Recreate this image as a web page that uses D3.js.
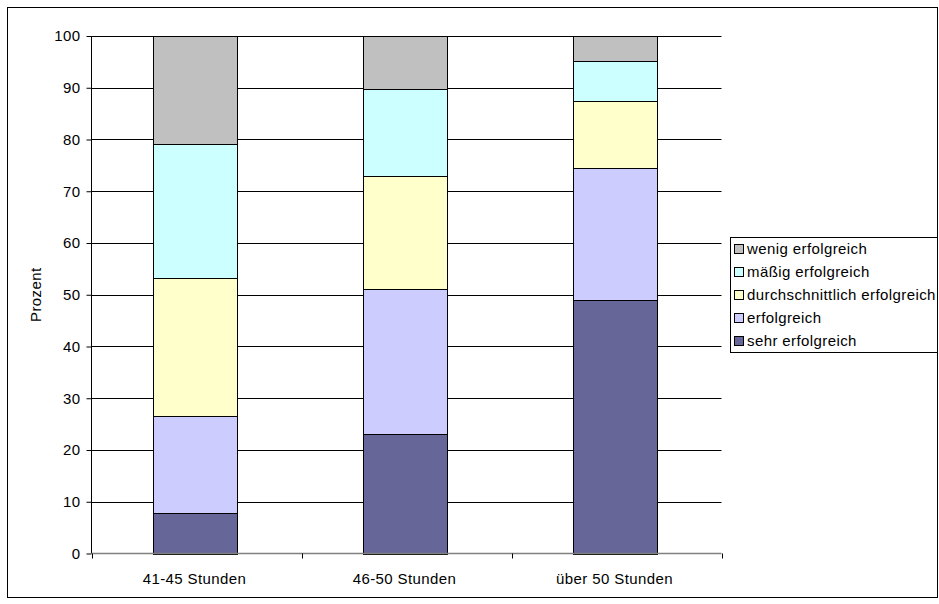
<!DOCTYPE html>
<html><head><meta charset="utf-8">
<script src="https://cdn.jsdelivr.net/npm/d3@7"></script>
<style>body{margin:0;background:#fff}svg{display:block;font-family:Arial,"Liberation Sans",sans-serif}svg text{letter-spacing:0.4px}</style>
</head><body>
<svg id="c" width="939" height="604"></svg>
<script>
const categories = ["41-45 Stunden", "46-50 Stunden", "über 50 Stunden"];
const seriesNames = ["sehr erfolgreich", "erfolgreich", "durchschnittlich erfolgreich", "mäßig erfolgreich", "wenig erfolgreich"];
const sehrErfolgreich = [7.8, 23.0, 48.9];
const erfolgreich = [18.8, 28.2, 25.6];
const durchschnittlich = [26.6, 21.7, 13.0];
const maessig = [25.9, 16.9, 7.7];
const wenig = [20.9, 10.2, 4.8];
const colors = ["#666699", "#ccccff", "#ffffcc", "#ccffff", "#c0c0c0"];
const yTicks = [0, 10, 20, 30, 40, 50, 60, 70, 80, 90, 100];

const FS = 15;
const seriesVals = [sehrErfolgreich, erfolgreich, durchschnittlich, maessig, wenig];
const rows = categories.map((c, i) => {
  const r = {cat: c};
  seriesNames.forEach((s, j) => r[s] = seriesVals[j][i]);
  return r;
});
const stack = d3.stack().keys(seriesNames)(rows);

const svg = d3.select("#c");
svg.append("rect").attr("x", 7.5).attr("y", 7.5).attr("width", 930).attr("height", 590)
  .attr("fill", "#fff").attr("stroke", "#000").attr("stroke-width", 1);

const x = d3.scaleBand().domain(categories).range([91.5, 721.5]).paddingInner(0.6).paddingOuter(0.3);
const y = d3.scaleLinear().domain([0, 100]).range([553.5, 36]);

// gridlines
svg.append("g").selectAll("line").data(yTicks.filter(t => t > 0)).join("line")
  .attr("x1", 91.5).attr("x2", 721.5)
  .attr("y1", d => Math.round(y(d)) + 0.5).attr("y2", d => Math.round(y(d)) + 0.5)
  .attr("stroke", "#000").attr("stroke-width", 1);

// bars
const g = svg.append("g");
stack.forEach((layer, j) => {
  g.selectAll(null).data(layer).join("rect")
    .attr("x", (d, i) => Math.round(x(categories[i])) - 1.5)
    .attr("width", Math.round(x.bandwidth()))
    .attr("y", d => Math.round(y(d[1])) + 0.5)
    .attr("height", d => Math.round(y(d[0])) - Math.round(y(d[1])))
    .attr("fill", colors[j]).attr("stroke", "#000").attr("stroke-width", 1);
});

// y axis
const yAxis = d3.axisLeft(y).tickValues(yTicks).tickSize(5).tickPadding(6);
const ya = svg.append("g").attr("transform", "translate(91.5,0)").call(yAxis);
ya.selectAll("text").attr("font-size", FS).attr("fill", "#000").attr("font-family", "Arial, Liberation Sans, sans-serif");
ya.selectAll("line,path").attr("stroke", "#000");
ya.select(".domain").attr("d", `M0,${y(100)}V${y(0)}`);

// x axis
const xa = svg.append("g").attr("transform", `translate(0,${y(0)})`);
xa.append("line").attr("x1", 91.5).attr("x2", 721.5).attr("y1", 0).attr("y2", 0).attr("stroke", "#808080").attr("stroke-width", 1.5);
const bounds = [91.5, ...categories.map(c => x(c) + x.bandwidth() / 2 + x.step() / 2)];
xa.selectAll("line.t").data(bounds).join("line").attr("class", "t")
  .attr("x1", d => Math.round(d) + 0.5).attr("x2", d => Math.round(d) + 0.5).attr("y1", 0).attr("y2", 5).attr("stroke", "#000");
xa.selectAll("text").data(categories).join("text")
  .attr("x", d => x(d) + x.bandwidth() / 2 - 2).attr("y", 30)
  .attr("text-anchor", "middle").attr("font-size", FS).text(d => d);

// y label
svg.append("text").attr("transform", `translate(41,${y(50)}) rotate(-90)`)
  .attr("text-anchor", "middle").attr("font-size", FS).text("Prozent");

// legend
const lg = svg.append("g");
lg.append("rect").attr("x", 730.5).attr("y", 237.5).attr("width", 207).attr("height", 115)
  .attr("fill", "#fff").attr("stroke", "#000");
const legendOrder = seriesNames.slice().reverse();
legendOrder.forEach((s, k) => {
  const j = seriesNames.indexOf(s);
  const cy = 249 + k * 23;
  lg.append("rect").attr("x", 734.5).attr("y", cy - 4.5).attr("width", 9).attr("height", 9)
    .attr("fill", colors[j]).attr("stroke", "#000");
  lg.append("text").attr("x", 747).attr("y", cy + 5).attr("font-size", FS).text(s);
});
</script>
</body></html>
